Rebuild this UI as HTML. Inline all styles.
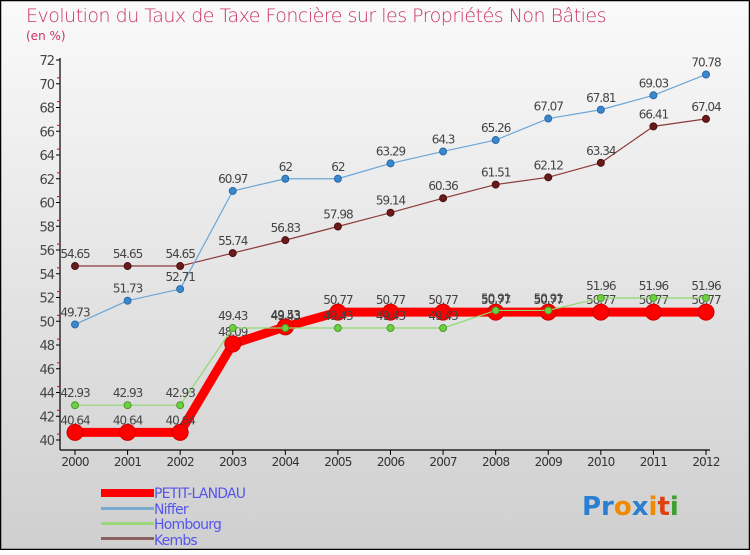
<!DOCTYPE html>
<html><head><meta charset="utf-8">
<style>
html,body{margin:0;padding:0;}
body{width:750px;height:550px;overflow:hidden;font-family:"Liberation Sans",sans-serif;}
svg text{font-family:"DejaVu Sans","Liberation Sans",sans-serif;}
</style></head>
<body>
<svg id="chart" width="750" height="550" xmlns="http://www.w3.org/2000/svg">
<defs>
<linearGradient id="bg" x1="0" y1="0" x2="0" y2="1">
<stop offset="0" stop-color="#fafafa"/><stop offset="1" stop-color="#cfcfcf"/>
</linearGradient>
</defs>
<rect x="0.5" y="0.5" width="749" height="549" fill="url(#bg)" stroke="#000" stroke-width="1.5"/>
<text x="26" y="22" font-size="19" fill="#c8336a" font-weight="300" letter-spacing="-0.5">Evolution du Taux de Taxe Foncière sur les Propriétés Non Bâties</text>
<text x="26" y="40" font-size="12" fill="#c8336a">(en %)</text>
<g id="axes"></g>
<g id="series"></g>
<g id="legend">
<rect x="101" y="489" width="53" height="8" fill="#f00"/>
<rect x="101" y="507" width="53" height="3" fill="#7aa9cf"/>
<rect x="101" y="522" width="53" height="3" fill="#9bd87a"/>
<rect x="101" y="537" width="53" height="3" fill="#8b6060"/>
<text x="154" y="498" font-size="14" fill="#5555ee" letter-spacing="-0.8">PETIT-LANDAU</text>
<text x="154" y="514" font-size="14" fill="#5555ee" letter-spacing="-0.8">Niffer</text>
<text x="154" y="529" font-size="14" fill="#5555ee" letter-spacing="-0.8">Hombourg</text>
<text x="154" y="545" font-size="14" fill="#5555ee" letter-spacing="-0.8">Kembs</text>
</g>
<g font-size="26" font-weight="bold">
<text x="582" y="515"><tspan fill="#2a7fd0">Pr</tspan><tspan fill="#f08a00">o</tspan><tspan fill="#2a7fd0">x</tspan><tspan fill="#f08a00">i</tspan><tspan fill="#e04010">t</tspan><tspan fill="#3aa030">i</tspan></text>
</g>
</svg>
<script>
const years = [2000,2001,2002,2003,2004,2005,2006,2007,2008,2009,2010,2011,2012];
const yTicks = [40,42,44,46,48,50,52,54,56,58,60,62,64,66,68,70,72];
const petitLandau = [40.64,40.64,40.64,48.09,49.53,50.77,50.77,50.77,50.77,50.77,50.77,50.77,50.77];
const niffer = [49.73,51.73,52.71,60.97,62,62,63.29,64.3,65.26,67.07,67.81,69.03,70.78];
const hombourg = [42.93,42.93,42.93,49.43,49.43,49.43,49.43,49.43,50.91,50.91,51.96,51.96,51.96];
const kembs = [54.65,54.65,54.65,55.74,56.83,57.98,59.14,60.36,61.51,62.12,63.34,66.41,67.04];

const NS="http://www.w3.org/2000/svg";
function xs(i){return 75+i*(706-75)/(years.length-1);}
function ys(v){return 440-(v-40)*(440-60)/(72-40);}
function mk(tag,attrs,parent){const e=document.createElementNS(NS,tag);for(const k in attrs)e.setAttribute(k,attrs[k]);parent.appendChild(e);return e;}
const axes=document.getElementById('axes');
let yl=mk('line',{x1:60,y1:58,x2:60,y2:450,stroke:'#000','stroke-width':1.2},axes);


let xl=mk('line',{x1:60,y1:450,x2:710,y2:450,stroke:'#000','stroke-width':1.2},axes);


yTicks.forEach((t,i)=>{
  const y=ys(t);
  mk('line',{x1:56,y1:y,x2:60,y2:y,stroke:'#000'},axes);
  if(i<yTicks.length-1) mk('line',{x1:57,y1:y-5.9,x2:60,y2:y-5.9,stroke:'#e00'},axes);
  const tx=mk('text',{x:54,y:y+5,'font-size':13,fill:'#444','text-anchor':'end','letter-spacing':'-1'},axes);
  tx.textContent=t;
  
  
});
years.forEach((yr,i)=>{
  const x=xs(i);
  mk('line',{x1:x,y1:450,x2:x,y2:455,stroke:'#000'},axes);
  const tx=mk('text',{x:x,y:466,'font-size':12,fill:'#333','text-anchor':'middle','letter-spacing':'-0.8'},axes);
  tx.textContent=yr;
  
  
});
const sg=document.getElementById('series');
function drawSeries(data,name,color,width,r,dot,stroke){
  const g=mk('g',{},sg);
  
  
  const pts=data.map((v,i)=>xs(i)+','+ys(v)).join(' ');
  mk('polyline',{points:pts,fill:'none',stroke:color,'stroke-width':width,'stroke-linejoin':'round'},g);
  data.forEach((v,i)=>{
    const c=mk('circle',{cx:xs(i),cy:ys(v),r:r,fill:dot,stroke:stroke,'stroke-width':1},g);
    
    
    const t=mk('text',{x:xs(i),y:ys(v)-8,'font-size':12,fill:'#444','text-anchor':'middle','letter-spacing':'-1'},g);
    t.textContent=String(v);
    
    
  });
}
drawSeries(kembs,'kembs','#8b3a3a',1.2,3.5,'#6b1a1a','#4a1010');
drawSeries(niffer,'niffer','#6aa6d8',1.2,3.5,'#3a88cc','#2a6aa8');
drawSeries(petitLandau,'petit-landau','#f00',9,8,'#f00','#c00');
drawSeries(hombourg,'hombourg','#8fd870',1.2,3.5,'#6cd040','#4a9a2a');
</script>
</body></html>
